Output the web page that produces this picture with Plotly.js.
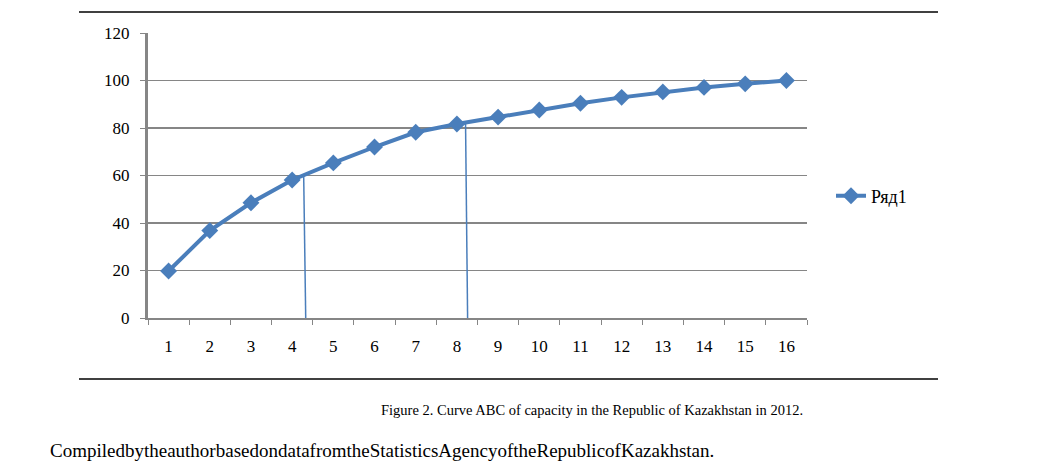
<!DOCTYPE html>
<html>
<head>
<meta charset="utf-8">
<script src="https://cdn.plot.ly/plotly-3.0.1.min.js"></script>
<style>html,body{margin:0;padding:0;background:#fff;}#chart{width:1042px;height:472px;}</style>
</head>
<body>
<div id="chart"></div>
<script>
// Data
const categories = ["1","2","3","4","5","6","7","8","9","10","11","12","13","14","15","16"];
const values = [19.8, 36.8, 48.5, 58.1, 65.3, 72.0, 78.2, 81.7, 84.6, 87.6, 90.4, 92.9, 95.2, 97.1, 98.6, 100];
const seriesName = "Ряд1";
// Cut-off marker lines (category index position, top value)
const cutX = [3.28, 7.21];
const cutTop = [59.8, 81.7];
const captionText = "Figure 2. Curve ABC of capacity in the Republic of Kazakhstan in 2012.";
const sourceText = "CompiledbytheauthorbasedondatafromtheStatisticsAgencyoftheRepublicofKazakhstan.";

const blue = "#4A7EBB";
const serif = "Liberation Serif, Times New Roman, serif";

const trace = {
  x: categories, y: values, name: seriesName, type: "scatter", mode: "lines+markers",
  line: {color: blue, width: 4},
  marker: {symbol: "diamond", size: 13, color: blue}
};

const L = 148, R = 807, T = 33, B = 318;
const W = 1042, H = 472;
function px2paperX(px){ return (px - L) / (R - L); }
function px2paperY(py){ return (B - py) / (B - T); }

const shapes = [];
cutX.forEach((cx, i) => {
  shapes.push({type: "line", xref: "x", yref: "y", x0: cx, y0: cutTop[i], x1: cx + 0.05, y1: -0.8,
    line: {color: blue, width: 1.5}});
});
shapes.push({type: "line", xref: "paper", yref: "paper", x0: px2paperX(79), x1: px2paperX(938), y0: px2paperY(12), y1: px2paperY(12), line: {color: "#000", width: 1.5}});
shapes.push({type: "line", xref: "paper", yref: "paper", x0: px2paperX(79), x1: px2paperX(938), y0: px2paperY(379), y1: px2paperY(379), line: {color: "#000", width: 1.5}});

const layout = {
  width: W, height: H,
  margin: {l: L, r: W - R, t: T, b: H - B, pad: 0},
  paper_bgcolor: "#fff", plot_bgcolor: "#fff",
  font: {family: serif, size: 17, color: "#000"},
  showlegend: true,
  legend: {x: px2paperX(831), y: px2paperY(196), xanchor: "left", yanchor: "middle",
    font: {family: serif, size: 18, color: "#000"}, bgcolor: "rgba(0,0,0,0)"},
  xaxis: {type: "category", tickson: "boundaries", ticks: "outside", ticklen: 5, tickcolor: "#868686",
    showline: true, linecolor: "#868686", linewidth: 2, showgrid: false, zeroline: false,
    range: [-0.5, 15.5], tickfont: {family: serif, size: 17}, ticklabelstandoff: 12, fixedrange: true},
  yaxis: {range: [0, 120], dtick: 20, tick0: 0, ticks: "outside", ticklen: 5, tickcolor: "#868686",
    showline: true, linecolor: "#868686", linewidth: 3, showgrid: true, gridcolor: "#868686", gridwidth: 1.5,
    zeroline: false, tickfont: {family: serif, size: 17}, ticklabelstandoff: 7},
  shapes: shapes,
  annotations: [
    {text: captionText, xref: "paper", yref: "paper", x: px2paperX(592), y: px2paperY(410), xanchor: "center", yanchor: "middle",
      showarrow: false, font: {family: serif, size: 14.5, color: "#000"}},
    {text: sourceText, xref: "paper", yref: "paper", x: px2paperX(48), y: px2paperY(450), xanchor: "left", yanchor: "middle",
      showarrow: false, font: {family: serif, size: 19, color: "#000"}}
  ]
};

Plotly.newPlot("chart", [trace], layout, {displayModeBar: false, staticPlot: true});
</script>
</body>
</html>
